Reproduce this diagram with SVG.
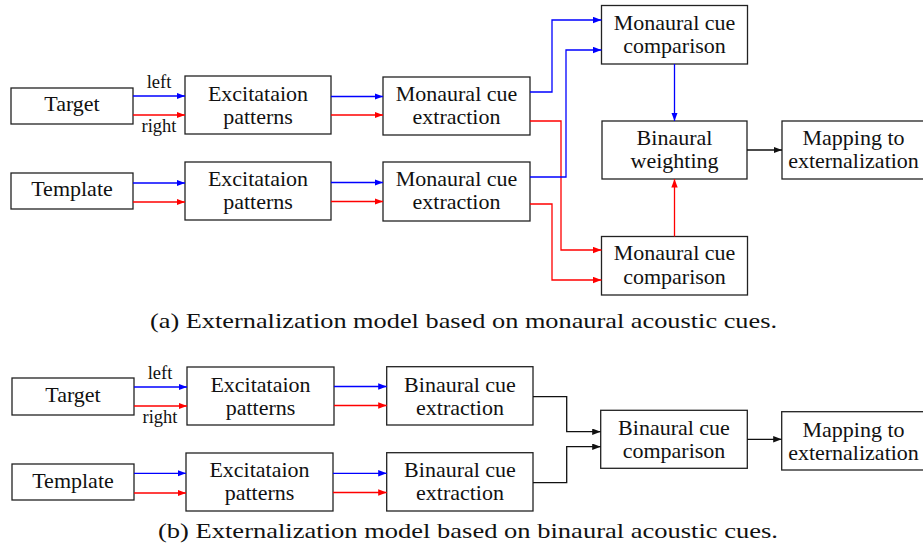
<svg xmlns="http://www.w3.org/2000/svg" width="923" height="551" viewBox="0 0 923 551">
<defs>
<marker id="ab" markerUnits="userSpaceOnUse" markerWidth="9" markerHeight="7" refX="8.5" refY="3.2" orient="auto"><path d="M0,0 L8.5,3.2 L0,6.4 z" fill="#0000ff"/></marker>
<marker id="ar" markerUnits="userSpaceOnUse" markerWidth="9" markerHeight="7" refX="8.5" refY="3.2" orient="auto"><path d="M0,0 L8.5,3.2 L0,6.4 z" fill="#ff0000"/></marker>
<marker id="ak" markerUnits="userSpaceOnUse" markerWidth="9" markerHeight="7" refX="8.5" refY="3.2" orient="auto"><path d="M0,0 L8.5,3.2 L0,6.4 z" fill="#111"/></marker>
</defs>
<style>
rect{fill:#fff;stroke:#222;stroke-width:1.3}
text{font-family:"Liberation Serif","Times New Roman",serif;font-size:22px;fill:#111;text-anchor:middle}
.lbl{font-size:18.5px}
.cap{font-size:22px}
.b{fill:none;stroke:#0000ff;stroke-width:1.3;marker-end:url(#ab)}
.r{fill:none;stroke:#ff0000;stroke-width:1.3;marker-end:url(#ar)}
.k{fill:none;stroke:#111;stroke-width:1.3;marker-end:url(#ak)}
</style>
<rect x="0" y="0" width="923" height="551" style="fill:#fff;stroke:none"/>

<!-- Part (a) -->
<g id="a-target"><rect x="11" y="88" width="122" height="36"/><text x="72" y="111">Target</text></g>
<g id="a-template"><rect x="11" y="173" width="122" height="36"/><text x="72" y="196">Template</text></g>
<g id="a-exc1"><rect x="185" y="76" width="146" height="58"/><text x="258" y="101">Excitataion</text><text x="258" y="124">patterns</text></g>
<g id="a-exc2"><rect x="185" y="162" width="146" height="58"/><text x="258" y="186">Excitataion</text><text x="258" y="209">patterns</text></g>
<g id="a-mext1"><rect x="383" y="77" width="147" height="58"/><text x="456.5" y="101">Monaural cue</text><text x="456.5" y="124">extraction</text></g>
<g id="a-mext2"><rect x="383" y="162" width="147" height="59"/><text x="456.5" y="186">Monaural cue</text><text x="456.5" y="209">extraction</text></g>
<g id="a-mcomp1"><rect x="601.5" y="5.5" width="146" height="58.5"/><text x="674.5" y="29.5">Monaural cue</text><text x="674.5" y="53">comparison</text></g>
<g id="a-mcomp2"><rect x="601.5" y="236.5" width="146" height="58.5"/><text x="674.5" y="260">Monaural cue</text><text x="674.5" y="284">comparison</text></g>
<g id="a-bw"><rect x="602" y="121" width="145" height="58"/><text x="674.5" y="145">Binaural</text><text x="674.5" y="168">weighting</text></g>
<g id="a-map"><rect x="782" y="121" width="143" height="58"/><text x="853.5" y="145">Mapping to</text><text x="853.5" y="168">externalization</text></g>
<g id="a-labels"><text class="lbl" x="159" y="88">left</text><text class="lbl" x="159" y="132">right</text></g>

<g id="a-connectors">
<path class="b" d="M133,96 H185"/>
<path class="r" d="M133,115 H185"/>
<path class="b" d="M133,183 H185"/>
<path class="r" d="M133,202 H185"/>
<path class="b" d="M331,96.5 H383"/>
<path class="r" d="M331,115 H383"/>
<path class="b" d="M331,182.5 H383"/>
<path class="r" d="M331,201.5 H383"/>
<path class="b" d="M530,92 H552 V20 H601.5"/>
<path class="r" d="M530,121 H561 V250 H601.5"/>
<path class="b" d="M530,177 H566 V50 H601.5"/>
<path class="r" d="M530,204 H552 V280 H601.5"/>
<path class="b" d="M674.5,64 V121"/>
<path class="r" d="M674.5,236.5 V179"/>
<path class="k" d="M747,150 H782"/>
</g>

<text class="cap" x="463.5" y="328" textLength="627" lengthAdjust="spacingAndGlyphs">(a) Externalization model based on monaural acoustic cues.</text>

<!-- Part (b) -->
<g id="b-target"><rect x="12" y="378" width="122" height="37"/><text x="73" y="402">Target</text></g>
<g id="b-template"><rect x="12" y="464" width="122" height="36"/><text x="73" y="488">Template</text></g>
<g id="b-exc1"><rect x="187" y="367" width="147" height="58"/><text x="260.5" y="391.5">Excitataion</text><text x="260.5" y="414.5">patterns</text></g>
<g id="b-exc2"><rect x="186" y="453" width="147" height="58"/><text x="259.5" y="477">Excitataion</text><text x="259.5" y="500">patterns</text></g>
<g id="b-bext1"><rect x="386.7" y="366.7" width="146.3" height="58.3"/><text x="460" y="391.5">Binaural cue</text><text x="460" y="414.5">extraction</text></g>
<g id="b-bext2"><rect x="386.7" y="452.7" width="146.3" height="58.3"/><text x="460" y="477">Binaural cue</text><text x="460" y="500">extraction</text></g>
<g id="b-bcomp"><rect x="600.7" y="410.3" width="146.6" height="58"/><text x="674" y="434.5">Binaural cue</text><text x="674" y="457.5">comparison</text></g>
<g id="b-map"><rect x="781.7" y="411.7" width="143" height="58.3"/><text x="853.5" y="436.5">Mapping to</text><text x="853.5" y="459.5">externalization</text></g>
<g id="b-labels"><text class="lbl" x="160" y="378.5">left</text><text class="lbl" x="160" y="423">right</text></g>

<g id="b-connectors">
<path class="b" d="M134,387 H187"/>
<path class="r" d="M134,406 H187"/>
<path class="b" d="M134,473.3 H186"/>
<path class="r" d="M134,493 H186"/>
<path class="b" d="M334,386.5 H386.7"/>
<path class="r" d="M334,405.5 H386.7"/>
<path class="b" d="M333,473.3 H386.7"/>
<path class="r" d="M333,492.5 H386.7"/>
<path class="k" d="M533,396.7 H566.7 V431.7 H600.7"/>
<path class="k" d="M533,482.7 H566.7 V446.7 H600.7"/>
<path class="k" d="M747.3,439.3 H781.7"/>
</g>

<text class="cap" x="468" y="538" textLength="620" lengthAdjust="spacingAndGlyphs">(b) Externalization model based on binaural acoustic cues.</text>
</svg>
